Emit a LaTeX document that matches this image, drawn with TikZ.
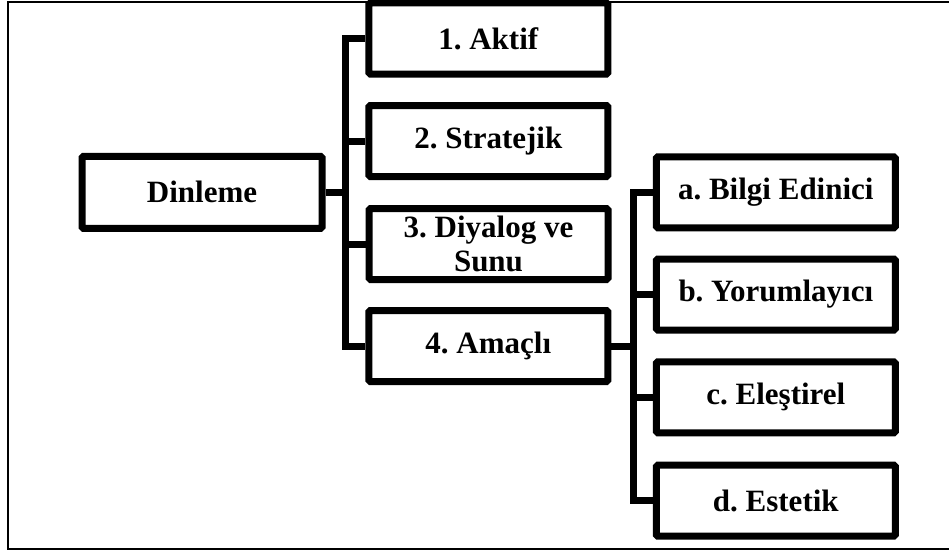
\documentclass[tikz,border=0pt]{standalone}
\usepackage{fontspec}
\setmainfont{Liberation Serif}
\frenchspacing
\begin{document}
\begin{tikzpicture}[x=1pt,y=-1pt,
  box/.style={draw=black, line width=7pt, rounded corners=1.5pt, minimum width=239pt, minimum height=71pt, inner sep=0pt, align=center, font=\fontsize{31}{34}\selectfont\bfseries\frenchspacing, text=black, fill=white},
  conn/.style={draw=black, line width=7pt},
  frame/.style={draw=black, line width=1.6pt}]
\useasboundingbox (0,0) rectangle (949,551);
\draw[frame] (949,2) -- (8,2) -- (8,549) -- (949,549);
\node[box, minimum width=240pt, minimum height=72pt] (root) at (202,192.3) {Dinleme};
\node[box] (a1) at (488.3,38.5) {1. Aktif};
\node[box] (a2) at (488.3,141) {2. Stratejik};
\node[box] (a3) at (488.5,244) {3. Diyalog ve\\Sunu};
\node[box] (a4) at (488.3,346) {4. Amaçlı};
\node[box] (b1) at (775.8,192.3) {a. Bilgi Edinici};
\node[box] (b2) at (775.8,294.5) {b. Yorumlayıcı};
\node[box] (b3) at (775.8,397.3) {c. Eleştirel};
\node[box] (b4) at (775.8,500.7) {d. Estetik};
\coordinate (j1) at (345.5,192.3);
\coordinate (j2) at (633,346);
\draw[conn] (root.east) -- (j1);
\draw[conn] (a1.west) -| (j1) |- (a4.west);
\draw[conn] (a2.west) -- (a2.west -| j1);
\draw[conn] (a3.west) -- (a3.west -| j1);
\draw[conn] (a4.east) -- (j2);
\draw[conn] (b1.west) -| (j2) |- (b4.west);
\draw[conn] (b2.west) -- (b2.west -| j2);
\draw[conn] (b3.west) -- (b3.west -| j2);
\end{tikzpicture}
\end{document}
